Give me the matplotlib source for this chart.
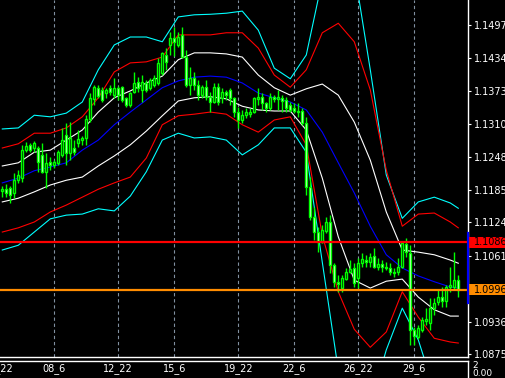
import matplotlib
matplotlib.use("Agg")
import matplotlib.pyplot as plt
from matplotlib.patches import Rectangle
from matplotlib.transforms import blended_transform_factory
import numpy as np

# H4 candles, oldest first
opens = [1.1184, 1.1187, 1.1189, 1.1180, 1.1204, 1.1208, 1.1261, 1.1271, 1.1265, 1.1265,
         1.1252, 1.1220, 1.1239, 1.1233, 1.1237, 1.1252, 1.1290, 1.1256, 1.1265, 1.1274,
         1.1280, 1.1284, 1.1320, 1.1358, 1.1379, 1.1375, 1.1369, 1.1379, 1.1365, 1.1379,
         1.1380, 1.1360, 1.1346, 1.1371, 1.1390, 1.1375, 1.1388, 1.1379, 1.1384, 1.1388,
         1.1407, 1.1441, 1.1460, 1.1473, 1.1460, 1.1479, 1.1437, 1.1384, 1.1397, 1.1384,
         1.1365, 1.1380, 1.1362, 1.1352, 1.1380, 1.1360, 1.1371, 1.1375, 1.1360, 1.1333,
         1.1318, 1.1327, 1.1329, 1.1333, 1.1358, 1.1362, 1.1350, 1.1341, 1.1362, 1.1358,
         1.1360, 1.1356, 1.1346, 1.1341, 1.1335, 1.1335, 1.1312, 1.1191, 1.1134, 1.1106,
         1.1087, 1.1108, 1.1125, 1.1044, 1.1012, 1.1000, 1.1017, 1.1030, 1.1038, 1.1019,
         1.1047, 1.1053, 1.1049, 1.1061, 1.1040, 1.1046, 1.1040, 1.1038, 1.1030, 1.1030,
         1.1040, 1.1083, 1.1066, 1.0921, 1.0907, 1.0921, 1.0938, 1.0934, 1.0962, 1.0974,
         1.0983, 1.0976, 1.1002, 1.1002, 1.1015]
highs = [1.1193, 1.1197, 1.1193, 1.1218, 1.1223, 1.1271, 1.1276, 1.1274, 1.1278, 1.1269,
         1.1274, 1.1256, 1.1248, 1.1242, 1.1261, 1.1303, 1.1312, 1.1314, 1.1280, 1.1299,
         1.1288, 1.1327, 1.1369, 1.1384, 1.1384, 1.1380, 1.1379, 1.1384, 1.1397, 1.1382,
         1.1382, 1.1362, 1.1371, 1.1409, 1.1399, 1.1403, 1.1394, 1.1397, 1.1403, 1.1435,
         1.1447, 1.1454, 1.1485, 1.1494, 1.1485, 1.1494, 1.1450, 1.1418, 1.1409, 1.1394,
         1.1384, 1.1394, 1.1371, 1.1388, 1.1388, 1.1379, 1.1375, 1.1379, 1.1362, 1.1343,
         1.1337, 1.1341, 1.1341, 1.1362, 1.1379, 1.1369, 1.1352, 1.1369, 1.1365, 1.1375,
         1.1365, 1.1362, 1.1352, 1.1350, 1.1350, 1.1341, 1.1324, 1.1210, 1.1153, 1.1116,
         1.1119, 1.1134, 1.1138, 1.1047, 1.1025, 1.1025, 1.1038, 1.1053, 1.1047, 1.1057,
         1.1066, 1.1063, 1.1066, 1.1076, 1.1057, 1.1053, 1.1049, 1.1047, 1.1038, 1.1057,
         1.1087, 1.1095, 1.1082, 1.0926, 1.0930, 1.0945, 1.0962, 1.0981, 1.0981, 1.0996,
         1.1002, 1.1006, 1.1040, 1.1068, 1.1025]
lows = [1.1172, 1.1172, 1.1161, 1.1170, 1.1199, 1.1201, 1.1257, 1.1257, 1.1257, 1.1220,
        1.1218, 1.1189, 1.1223, 1.1227, 1.1233, 1.1248, 1.1233, 1.1242, 1.1252, 1.1267,
        1.1271, 1.1271, 1.1314, 1.1346, 1.1360, 1.1352, 1.1360, 1.1365, 1.1360, 1.1356,
        1.1352, 1.1343, 1.1343, 1.1369, 1.1371, 1.1352, 1.1371, 1.1375, 1.1380, 1.1384,
        1.1403, 1.1413, 1.1441, 1.1439, 1.1456, 1.1435, 1.1380, 1.1365, 1.1375, 1.1356,
        1.1360, 1.1356, 1.1333, 1.1350, 1.1346, 1.1350, 1.1356, 1.1346, 1.1324, 1.1303,
        1.1312, 1.1322, 1.1324, 1.1331, 1.1346, 1.1337, 1.1333, 1.1337, 1.1352, 1.1337,
        1.1333, 1.1333, 1.1333, 1.1331, 1.1324, 1.1309, 1.1176, 1.1129, 1.1091, 1.1068,
        1.1085, 1.1104, 1.1029, 1.1002, 1.0993, 1.0993, 1.1015, 1.1029, 1.1002, 1.1000,
        1.1040, 1.1040, 1.1040, 1.1038, 1.1034, 1.1030, 1.1034, 1.1025, 1.1021, 1.1025,
        1.1038, 1.1059, 1.0892, 1.0892, 1.0904, 1.0917, 1.0930, 1.0921, 1.0949, 1.0968,
        1.0964, 1.0964, 1.0993, 1.0996, 1.0983]
closes = [1.1187, 1.1180, 1.1176, 1.1204, 1.1214, 1.1261, 1.1269, 1.1261, 1.1274, 1.1239,
          1.1220, 1.1237, 1.1233, 1.1239, 1.1257, 1.1280, 1.1256, 1.1284, 1.1257, 1.1282,
          1.1284, 1.1320, 1.1360, 1.1380, 1.1363, 1.1356, 1.1375, 1.1371, 1.1379, 1.1365,
          1.1356, 1.1346, 1.1369, 1.1388, 1.1379, 1.1390, 1.1375, 1.1394, 1.1397, 1.1426,
          1.1445, 1.1428, 1.1473, 1.1466, 1.1475, 1.1437, 1.1384, 1.1397, 1.1384, 1.1365,
          1.1380, 1.1362, 1.1352, 1.1380, 1.1352, 1.1371, 1.1365, 1.1360, 1.1333, 1.1318,
          1.1327, 1.1333, 1.1333, 1.1360, 1.1362, 1.1350, 1.1341, 1.1362, 1.1358, 1.1362,
          1.1354, 1.1341, 1.1337, 1.1335, 1.1333, 1.1312, 1.1191, 1.1134, 1.1106, 1.1087,
          1.1110, 1.1125, 1.1044, 1.1012, 1.1008, 1.1019, 1.1030, 1.1036, 1.1010, 1.1047,
          1.1055, 1.1049, 1.1059, 1.1040, 1.1046, 1.1040, 1.1038, 1.1030, 1.1029, 1.1040,
          1.1085, 1.1068, 1.0921, 1.0909, 1.0924, 1.0940, 1.0942, 1.0962, 1.0972, 1.0983,
          1.0976, 1.1002, 1.1006, 1.1015, 1.0996]

# envelope lines, read every 4 bars
band_bars = [0, 4, 8, 12, 16, 20, 24, 28, 32, 36, 40, 44, 48, 52, 56,
             60, 64, 68, 72, 76, 80, 84, 88, 92, 96, 100, 104, 108, 112, 114]
mid_line = [1.1199, 1.1208, 1.1222, 1.1229, 1.1237, 1.1261, 1.1280, 1.1309, 1.1333, 1.1356,
            1.1379, 1.1392, 1.1399, 1.1401, 1.1399, 1.1388, 1.1369, 1.1360, 1.1352, 1.1337,
            1.1295, 1.1237, 1.1180, 1.1117, 1.1063, 1.1038, 1.1023, 1.1012, 1.1002, 1.1000]
white_up = [1.1231, 1.1237, 1.1257, 1.1261, 1.1280, 1.1299, 1.1333, 1.1360, 1.1373, 1.1388,
            1.1401, 1.1432, 1.1445, 1.1445, 1.1443, 1.1437, 1.1403, 1.1379, 1.1365, 1.1377,
            1.1386, 1.1365, 1.1314, 1.1242, 1.1144, 1.1072, 1.1068, 1.1063, 1.1053, 1.1047]
white_dn = [1.1163, 1.1170, 1.1182, 1.1195, 1.1204, 1.1210, 1.1231, 1.1250, 1.1271, 1.1297,
            1.1326, 1.1354, 1.1360, 1.1362, 1.1358, 1.1344, 1.1337, 1.1335, 1.1335, 1.1299,
            1.1208, 1.1097, 1.1015, 1.1000, 1.1013, 1.1017, 1.0983, 1.0959, 1.0947, 1.0947]
red_up = [1.1265, 1.1273, 1.1293, 1.1293, 1.1303, 1.1324, 1.1360, 1.1409, 1.1426, 1.1428,
          1.1437, 1.1479, 1.1479, 1.1479, 1.1483, 1.1483, 1.1454, 1.1403, 1.1380, 1.1413,
          1.1483, 1.1501, 1.1466, 1.1375, 1.1223, 1.1117, 1.1140, 1.1142, 1.1125, 1.1114]
red_dn = [1.1106, 1.1114, 1.1125, 1.1144, 1.1157, 1.1172, 1.1187, 1.1199, 1.1210, 1.1246,
          1.1309, 1.1326, 1.1329, 1.1333, 1.1329, 1.1309, 1.1295, 1.1318, 1.1324, 1.1271,
          1.1100, 1.0993, 1.0922, 1.0888, 1.0917, 1.0993, 1.0945, 1.0905, 1.0898, 1.0896]
cyan_up = [1.1301, 1.1303, 1.1327, 1.1324, 1.1331, 1.1352, 1.1413, 1.1460, 1.1475, 1.1475,
           1.1466, 1.1513, 1.1517, 1.1518, 1.1520, 1.1524, 1.1488, 1.1416, 1.1396, 1.1441,
           1.1583, 1.1636, 1.1602, 1.1413, 1.1214, 1.1132, 1.1163, 1.1172, 1.1161, 1.1151]
cyan_dn = [1.1072, 1.1081, 1.1106, 1.1131, 1.1138, 1.1140, 1.1150, 1.1146, 1.1174, 1.1220,
           1.1280, 1.1293, 1.1284, 1.1286, 1.1280, 1.1252, 1.1271, 1.1303, 1.1303, 1.1257,
           1.1049, 1.0845, 1.0788, 1.0779, 1.0883, 1.0962, 1.0902, 1.0807, 1.0788, 1.0788]

price_ticks = [1.14977, 1.14347, 1.13732, 1.13102, 1.12487, 1.11857, 1.11242, 1.10612, 1.09367, 1.08752]
time_bars = [-1, 13, 29, 43, 59, 73, 89, 103]
time_labels = ["05_22", "08_6", "12_22", "15_6", "19_22", "22_6", "26_22", "29_6"]
level_line = 1.10868
bid_line = 1.09965
range_low, range_high = 1.0971, 1.1104

W, H = 506, 378
fig = plt.figure(figsize=(W / 100, H / 100), dpi=100, facecolor="black")
ax = fig.add_axes([0, 21 / H, 468 / W, 357 / H], facecolor="black")

x = np.arange(len(opens))
o = np.array(opens)
c = np.array(closes)

# grid
for b in time_bars:
    ax.axvline(b, color="#8090a0", lw=0.8, ls=(0, (3, 2.5)), zorder=1)

# bands
band_style = dict(lw=0.8, zorder=2)
ax.plot(band_bars, cyan_up, color="#00ffff", **band_style)
ax.plot(band_bars, cyan_dn, color="#00ffff", **band_style)
ax.plot(band_bars, red_up, color="#ff0000", **band_style)
ax.plot(band_bars, red_dn, color="#ff0000", **band_style)
ax.plot(band_bars, white_up, color="white", **band_style)
ax.plot(band_bars, white_dn, color="white", **band_style)
ax.plot(band_bars, mid_line, color="#0000ff", **band_style)

# candles
ax.vlines(x, lows, highs, color="#00ff00", lw=1.0, zorder=3)
fills = np.where(c >= o, "black", "white")
ax.bar(x, np.abs(c - o), bottom=np.minimum(o, c), width=0.55, color=fills,
       edgecolor="#00ff00", linewidth=1.0, zorder=4)

ax.axhline(level_line, color="#ff0000", lw=1.6, zorder=5)
ax.axhline(bid_line, color="#ff8c00", lw=1.6, zorder=5)

ax.set_xlim(-0.575, 116.43)
ax.set_ylim(1.08696, 1.15450)
ax.set_xticks([])
ax.yaxis.tick_right()
ax.set_yticks(price_ticks)
ax.set_yticklabels([f"{v:.5f}" for v in price_ticks])
ax.tick_params(axis="y", colors="white", length=2.5, width=0.8, pad=2, labelsize=7)
for s in ["top", "left"]:
    ax.spines[s].set_visible(False)
for s in ["right", "bottom"]:
    ax.spines[s].set_color("white")
    ax.spines[s].set_linewidth(1)

tr = blended_transform_factory(ax.transAxes, ax.transData)
box_h = 0.0021
for val, col in [(level_line, "#ff0000"), (bid_line, "#ff8c00")]:
    ax.add_patch(Rectangle((1.002, val - box_h / 2), 0.1, box_h, transform=tr,
                           facecolor=col, edgecolor="none", clip_on=False, zorder=6))
    ax.text(1.013, val, f"{val:.5f}", transform=tr, color="black", fontsize=7,
            ha="left", va="center", clip_on=False, zorder=7)
ax.plot([0.999, 0.999], [range_low, range_high], transform=tr, color="#0000ff",
        lw=1.6, clip_on=False, zorder=6)

# time labels
trx = blended_transform_factory(ax.transData, ax.transAxes)
for b, lab in zip(time_bars, time_labels):
    ax.text(b, -0.031, lab, transform=trx, color="white", fontsize=7,
            ha="center", va="center", clip_on=False)

# small indicator window at the bottom
ax2 = fig.add_axes([0, -0.02, 468 / W, (17 / H) + 0.02], facecolor="black")
ax2.set_xticks([])
ax2.set_yticks([])
for s in ["left", "bottom"]:
    ax2.spines[s].set_visible(False)
for s in ["top", "right"]:
    ax2.spines[s].set_color("white")
    ax2.spines[s].set_linewidth(1)
fig.text(472 / W, 1 - 365 / H, "2", color="white", fontsize=6.5, ha="left", va="center")
fig.text(472 / W, 1 - 373 / H, "0.00", color="white", fontsize=6.5, ha="left", va="center")
ax.set_zorder(ax2.get_zorder() + 1)

fig.savefig("out.png", dpi=100, facecolor="black")
